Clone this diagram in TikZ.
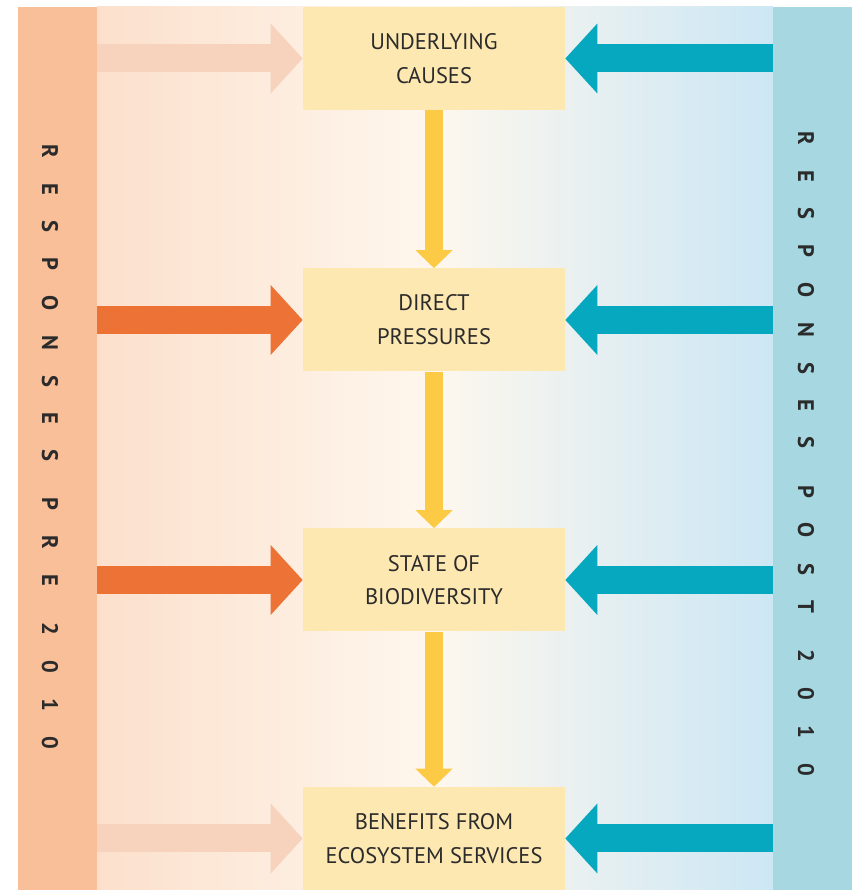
\documentclass[tikz,border=0pt]{standalone}
\usepackage{fontspec}
\setmainfont{PT Sans}
\usetikzlibrary{arrows.meta}
\definecolor{barpre}{HTML}{F8BF99}
\definecolor{barpost}{HTML}{A7D8E2}
\definecolor{bgpre}{HTML}{FCE0CC}
\definecolor{bgmid}{HTML}{FEF7EE}
\definecolor{bgpost}{HTML}{CCE7F4}
\definecolor{boxfill}{HTML}{FDE8B2}
\definecolor{orangearrow}{HTML}{EC7335}
\definecolor{peacharrow}{HTML}{F7D2BC}
\definecolor{tealarrow}{HTML}{05A8BF}
\definecolor{yellowarrow}{HTML}{FCCA45}
\definecolor{ink}{HTML}{2B2B2B}
\tikzset{
  bar/.style={minimum width=1.975cm,minimum height=22.075cm,inner sep=0pt},
  stage/.style={fill=boxfill,minimum width=6.55cm,minimum height=2.575cm,inner sep=0pt,align=center,text=ink,font=\fontsize{16}{24}\selectfont},
  bartext/.style={rotate=-90,text=ink,font=\fontsize{16}{20}\selectfont\bfseries\addfontfeature{LetterSpace=112}},
  push/.style={line width=0.7cm,-{Triangle[length=0.8cm,width=1.7cm]}},
  down/.style={draw=yellowarrow,line width=0.45cm,-{Triangle[length=0.45cm,width=0.9cm]}}
}

\begin{document}
\begin{tikzpicture}[x=1cm,y=1cm]
\useasboundingbox (0,0) rectangle (21.3,22.25);
% Fondo
\shade[left color=bgpre,right color=bgpost,middle color=bgmid] (2.425,0) rectangle (19.325,22.075);
\node[bar,fill=barpre] (pre) at (1.4375,11.0375) {};
\node[bar,fill=barpost] (post) at (20.3125,11.0375) {};
\node[bartext] (pretext) at (1.25,11.075) {RESPONSES\hspace{4pt} PRE\hspace{4pt} 2010};
\node[bartext] (posttext) at (20.15,10.9) {RESPONSES\hspace{4pt} POST\hspace{4pt} 2010};

% Cajas
\node[stage] (causes) at (10.85,20.7875) {UNDERLYING\\CAUSES};
\node[stage] (pressures) at (10.85,14.25) {DIRECT\\PRESSURES};
\node[stage] (state) at (10.85,7.75) {STATE OF\\BIODIVERSITY};
\node[stage] (benefits) at (10.85,1.2875) {BENEFITS FROM\\ECOSYSTEM SERVICES};

% Flechas
\draw[down] (causes.south) -- (pressures.north);
\draw[down] (pressures.south) -- (state.north);
\draw[down] (state.south) -- (benefits.north);
\draw[push,draw=peacharrow] (pre.east |- causes.west) -- (causes.west);
\draw[push,draw=orangearrow] (pre.east |- pressures.west) -- (pressures.west);
\draw[push,draw=orangearrow] (pre.east |- state.west) -- (state.west);
\draw[push,draw=peacharrow] (pre.east |- benefits.west) -- (benefits.west);
\draw[push,draw=tealarrow] (post.west |- causes.east) -- (causes.east);
\draw[push,draw=tealarrow] (post.west |- pressures.east) -- (pressures.east);
\draw[push,draw=tealarrow] (post.west |- state.east) -- (state.east);
\draw[push,draw=tealarrow] (post.west |- benefits.east) -- (benefits.east);
\end{tikzpicture}
\end{document}
